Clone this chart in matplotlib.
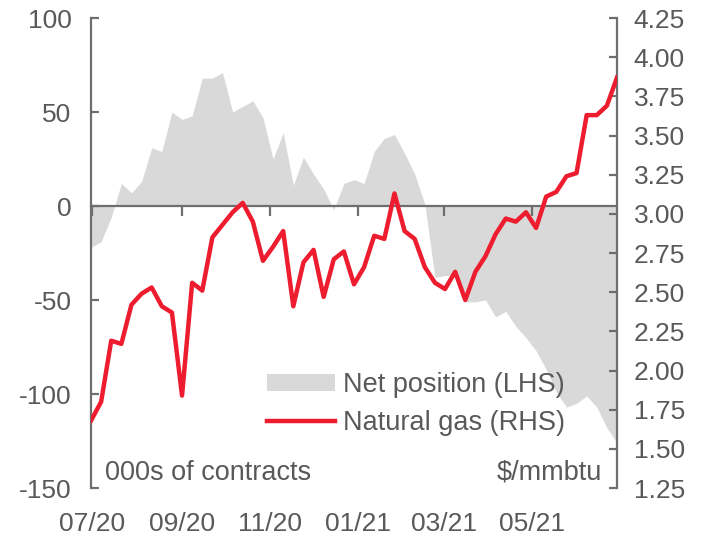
import numpy as np
import pandas as pd
import matplotlib
matplotlib.use('Agg')
import matplotlib.pyplot as plt
import matplotlib.dates as mdates

# ---- data ----
dates = pd.date_range('2020-06-30', periods=53, freq='7D')
net_position = [-22, -19, -6, 12, 7, 13, 31, 29, 50, 46,
                48, 68, 68, 71, 50, 53, 56, 47, 25, 39,
                11, 26, 17, 9, -2, 12, 14, 12, 29, 36,
                38, 28, 17, 1, -38, -37, -37, -51, -51, -50,
                -59, -56, -64, -70, -77, -87, -99, -107, -105, -101,
                -107, -118, -126]
natural_gas = [1.68, 1.80, 2.19, 2.17, 2.42, 2.49, 2.53, 2.41, 2.37, 1.84,
               2.56, 2.51, 2.85, 2.93, 3.01, 3.07, 2.95, 2.70, 2.79, 2.89,
               2.41, 2.69, 2.77, 2.47, 2.71, 2.76, 2.55, 2.66, 2.86, 2.84,
               3.13, 2.89, 2.84, 2.66, 2.56, 2.52, 2.63, 2.45, 2.63, 2.73,
               2.87, 2.97, 2.95, 3.01, 2.91, 3.11, 3.14, 3.24, 3.26, 3.63,
               3.63, 3.69, 3.87]
left_ticks = [100, 50, 0, -50, -100, -150]
right_ticks = [4.25, 4.00, 3.75, 3.50, 3.25, 3.00, 2.75, 2.50, 2.25, 2.00, 1.75, 1.50, 1.25]
tick_months = [1, 3, 5, 7, 9, 11]
label_net = 'Net position (LHS)'
label_gas = 'Natural gas (RHS)'
unit_left = '000s of contracts'
unit_right = '$/mmbtu'

# ---- style ----
plt.rcParams['font.family'] = ['Liberation Sans', 'DejaVu Sans']
TXT = '#595959'
AXC = '#6E6E6E'
RED = '#ED1C2E'
GREY = '#D9D9D9'
FS = 19
FS2 = 19.5

fig = plt.figure(figsize=(7.15, 5.38), dpi=100)
ax = fig.add_axes([91 / 715, 1 - 488 / 538, 526 / 715, 470 / 538])

ax.fill_between(dates, 0, net_position, color=GREY, lw=0, label=label_net, zorder=1)
ax.set_ylim(-150, 100)
ax.set_xlim(dates[0], dates[-1])
ax.set_yticks(left_ticks)
ax.set_yticklabels([str(t) for t in left_ticks])

for s in ['top', 'right']:
    ax.spines[s].set_visible(False)
ax.spines['bottom'].set_position(('data', 0))
for s in ['left', 'bottom']:
    ax.spines[s].set_color(AXC)
    ax.spines[s].set_linewidth(1.6)
    ax.spines[s].set_zorder(3)

ax.tick_params(axis='y', direction='in', length=6, width=1.6, color=AXC,
               labelcolor=TXT, labelsize=FS, pad=14)
ax.xaxis.set_major_locator(mdates.MonthLocator(bymonth=tick_months))
ax.tick_params(axis='x', direction='out', length=7, width=1.6, color=AXC,
               labelbottom=False)

# bottom labels on a secondary axis
sec = ax.secondary_xaxis(0.0)
sec.xaxis.set_major_locator(mdates.MonthLocator(bymonth=tick_months))
sec.xaxis.set_major_formatter(mdates.DateFormatter('%m/%y'))
sec.tick_params(axis='x', length=0, labelcolor=TXT, labelsize=FS, pad=17)
sec.spines['bottom'].set_visible(False)

ax2 = ax.twinx()
ax2.plot(dates, natural_gas, color=RED, lw=3.2, label=label_gas, zorder=3)
ax2.set_ylim(1.25, 4.25)
ax2.set_yticks(right_ticks)
ax2.set_yticklabels([f'{t:.2f}' for t in right_ticks])
for s in ['top', 'left', 'bottom']:
    ax2.spines[s].set_visible(False)
ax2.spines['right'].set_color(AXC)
ax2.spines['right'].set_linewidth(1.6)
ax2.tick_params(axis='y', direction='in', length=6, width=1.6, color=AXC,
                labelcolor=TXT, labelsize=FS, pad=12)

h1, l1 = ax.get_legend_handles_labels()
h2, l2 = ax2.get_legend_handles_labels()
leg = ax2.legend(h1 + h2, l1 + l2, loc='upper left', bbox_to_anchor=(0.335, 0.247),
                 frameon=False, fontsize=FS2, handlelength=2.5, handleheight=0.6,
                 handletextpad=0.3, labelspacing=0.45, borderpad=0, borderaxespad=0)
for t in leg.get_texts():
    t.set_color(TXT)

ax2.text(0.027, 0.005, unit_left, transform=ax.transAxes, fontsize=FS2, color=TXT,
         ha='left', va='bottom')
ax2.text(0.972, 0.005, unit_right, transform=ax.transAxes, fontsize=FS2, color=TXT,
         ha='right', va='bottom')

fig.savefig('out.png', dpi=100)
